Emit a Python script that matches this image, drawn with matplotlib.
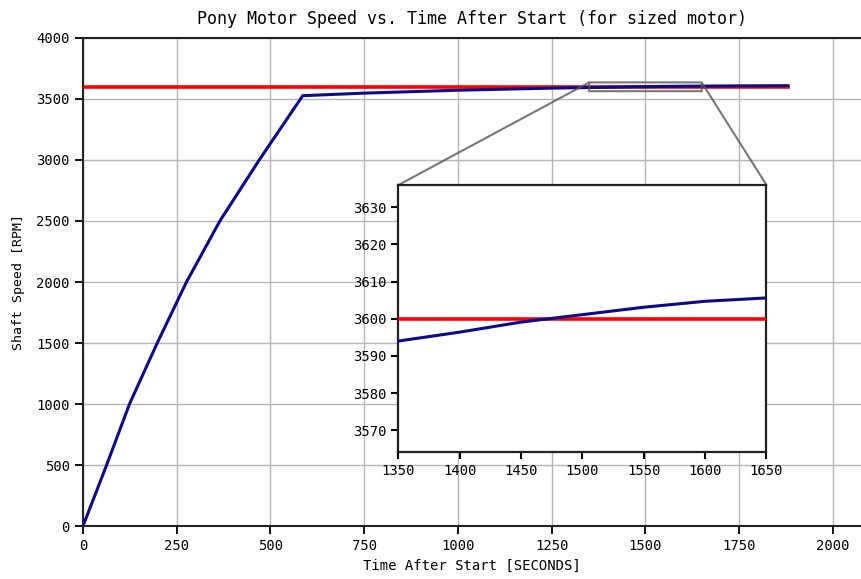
import numpy as np
import matplotlib
matplotlib.use("Agg")
import matplotlib.pyplot as plt

# shaft speed
time_s = [0, 63, 124, 198, 276, 365, 470, 586,
          750, 1000, 1250, 1350, 1400, 1450, 1500, 1550, 1600, 1650, 1750, 1880]
speed_rpm = [0, 500, 1000, 1500, 2000, 2500, 3000, 3527,
             3548, 3572, 3589, 3594, 3596.4, 3599.1, 3601.1, 3603.1, 3604.7, 3605.6, 3607.5, 3609]

# rated speed line
rated_time = [0, 1880]
rated_rpm = [3600, 3600]

main_xticks = [0, 250, 500, 750, 1000, 1250, 1500, 1750, 2000]
main_yticks = [0, 500, 1000, 1500, 2000, 2500, 3000, 3500, 4000]
inset_xticks = [1350, 1400, 1450, 1500, 1550, 1600, 1650]
inset_yticks = [3570, 3580, 3590, 3600, 3610, 3620, 3630]

plt.rcParams["font.family"] = "DejaVu Sans Mono"

fig = plt.figure(figsize=(8.61, 5.79), dpi=100)
ax = fig.add_axes([0.0964, 0.0915, 0.9036, 0.8429])

ax.plot(rated_time, rated_rpm, color="red", lw=2.6, zorder=3)
ax.plot(time_s, speed_rpm, color="#0a0a8a", lw=2.2, zorder=4)

ax.set_xlim(0, 2075)
ax.set_ylim(0, 4000)
ax.set_xticks(main_xticks)
ax.set_yticks(main_yticks)
ax.grid(True, color="#b5b5b5", lw=1.0)
ax.tick_params(direction="out", length=6, width=1.3, labelsize=10, colors="black")
for side in ["left", "bottom", "top"]:
    ax.spines[side].set_linewidth(1.5)
    ax.spines[side].set_color("#222222")
ax.spines["right"].set_visible(False)

ax.set_title("Pony Motor Speed vs. Time After Start (for sized motor)", fontsize=12, pad=10)
ax.set_xlabel("Time After Start [SECONDS]", fontsize=10)
ax.set_ylabel("Shaft Speed [RPM]", fontsize=9.5, labelpad=8)

# zoomed inset
axins = fig.add_axes([0.4628, 0.2185, 0.4274, 0.462])
axins.plot(rated_time, rated_rpm, color="red", lw=2.6, zorder=3)
axins.plot(time_s, speed_rpm, color="#0a0a8a", lw=2.2, zorder=4)
axins.set_xlim(1350, 1650)
axins.set_ylim(3564, 3636)
axins.set_xticks(inset_xticks)
axins.set_yticks(inset_yticks)
axins.tick_params(direction="out", length=5, width=1.5, labelsize=10)
for s in axins.spines.values():
    s.set_linewidth(1.6)
    s.set_color("#222222")
axins.set_facecolor("white")

ind = ax.indicate_inset_zoom(axins, edgecolor="#555555", lw=1.5, alpha=0.8)
# only the upper-left and upper-right connectors, as in the original
for i, c in enumerate(ind.connectors):
    c.set_visible(i in (1, 3))

fig.savefig("out.png", dpi=100)
